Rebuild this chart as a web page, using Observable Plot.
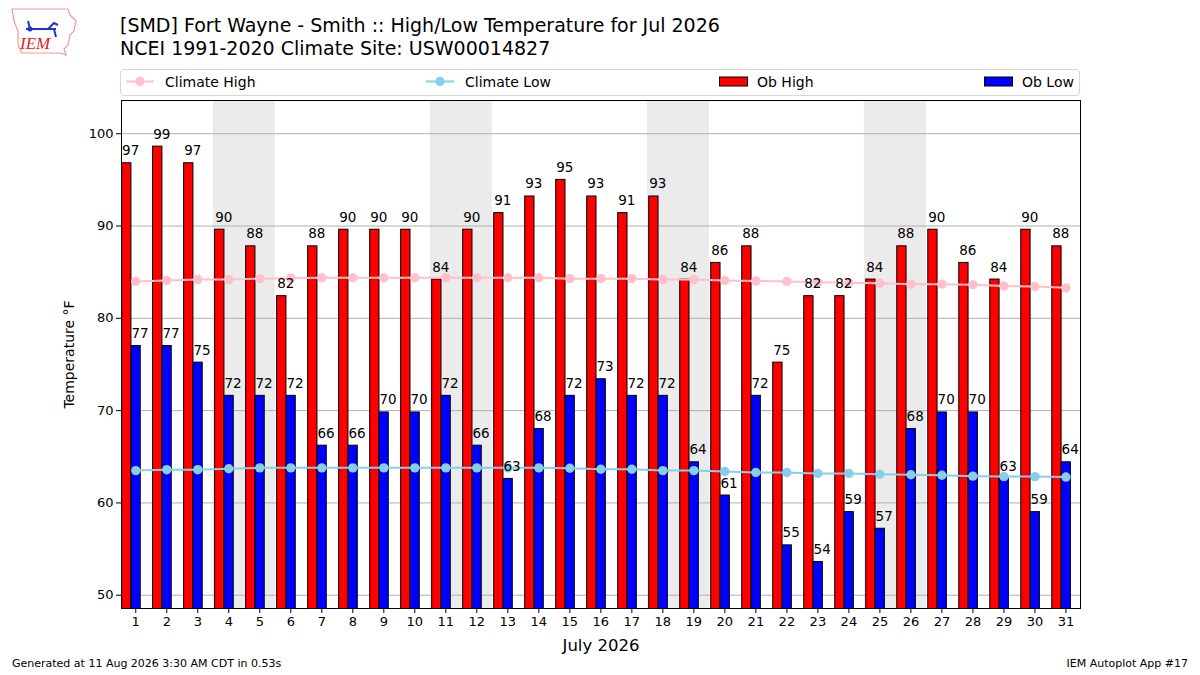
<!DOCTYPE html>
<html>
<head>
<meta charset="utf-8">
<script src="https://cdn.jsdelivr.net/npm/d3@7"></script>
<script src="https://cdn.jsdelivr.net/npm/@observablehq/plot@0.6"></script>
<style>
  html, body { margin: 0; padding: 0; background: #fff; }
  #wrap { position: relative; width: 1200px; height: 675px; overflow: hidden; font-family: "DejaVu Sans", sans-serif; color: #000; }
  .title { position: absolute; left: 120px; font-size: 19px; white-space: nowrap; line-height: 23px; }
  #legend { position: absolute; left: 120px; top: 69px; width: 958px; height: 25px; border: 1px solid #d6d6d6; border-radius: 4px; }
  .lg { position: absolute; top: 0; height: 25px; font-size: 14px; line-height: 24px; white-space: nowrap; }
  .foot { position: absolute; top: 657px; font-size: 11px; white-space: nowrap; line-height: 14px; }
  #chart { position: absolute; left: 0; top: 97px; }
  #chart svg [aria-label="x-axis label"] text { font-size: 16.5px; }
  #chart svg [aria-label="y-axis label"] text { font-size: 14px; }
</style>
</head>
<body>
<div id="wrap">
  <svg id="logo" width="72" height="54" style="position:absolute;left:8px;top:5px" viewBox="0 0 72 54">
    <path d="M4,4 L60,4 L62,10 L68,16 L66,26 L62,30 L60,40 L56,44 L58,50 L52,48 L14,48 L10,40 L10,26 L6,16 Z" fill="none" stroke="#ee9999" stroke-width="1.2"/>
    <path d="M18,24 L48,24 M22,24 L20,16 M40,24 L46,18 L50,20 M46,24 L48,32" stroke="#2233cc" stroke-width="2" fill="none"/>
    <circle cx="22" cy="24" r="2.5" fill="#2233cc"/>
    <text x="12" y="44" font-family="Liberation Serif" font-style="italic" font-size="17" fill="#dd2222">IEM</text>
  </svg>
  <div class="title" style="top:13.5px">[SMD] Fort Wayne - Smith :: High/Low Temperature for Jul 2026</div>
  <div class="title" style="top:36.5px">NCEI 1991-2020 Climate Site: USW00014827</div>
  <div id="legend"></div>
  <div id="chart"></div>
  <div class="foot" style="left:12px">Generated at 11 Aug 2026 3:30 AM CDT in 0.53s</div>
  <div class="foot" style="right:12px">IEM Autoplot App #17</div>
</div>
<script>
// ---- data ----
const days = [1,2,3,4,5,6,7,8,9,10,11,12,13,14,15,16,17,18,19,20,21,22,23,24,25,26,27,28,29,30,31];
const obHigh = [96.8,98.6,96.8,89.6,87.8,82.4,87.8,89.6,89.6,89.6,84.2,89.6,91.4,93.2,95.0,93.2,91.4,93.2,84.2,86.0,87.8,75.2,82.4,82.4,84.2,87.8,89.6,86.0,84.2,89.6,87.8];
const obLow = [77.0,77.0,75.2,71.6,71.6,71.6,66.2,66.2,69.8,69.8,71.6,66.2,62.6,68.0,71.6,73.4,71.6,71.6,64.4,60.8,71.6,55.4,53.6,59.0,57.2,68.0,69.8,69.8,62.6,59.0,64.4];
const climHigh = [84.0,84.1,84.2,84.2,84.3,84.35,84.4,84.4,84.4,84.4,84.4,84.4,84.4,84.4,84.3,84.3,84.3,84.2,84.2,84.1,84.05,84.0,83.9,83.85,83.8,83.7,83.7,83.65,83.5,83.45,83.3];
const climLow = [63.5,63.6,63.6,63.7,63.8,63.8,63.8,63.8,63.8,63.8,63.8,63.8,63.8,63.8,63.75,63.65,63.65,63.5,63.5,63.4,63.3,63.3,63.2,63.2,63.1,63.05,63.0,62.9,62.85,62.85,62.8];
const weekendDays = [4,5,11,12,18,19,25,26];
const yTicks = [50,60,70,80,90,100];
const seriesNames = ["Climate High","Climate Low","Ob High","Ob Low"];
const colors = {"Climate High":"#ffc0cb","Climate Low":"#87ceeb","Ob High":"#ff0000","Ob Low":"#0000ff"};

// ---- table ----
const rows = days.map((d, i) => ({day: d, high: obHigh[i], low: obLow[i], ch: climHigh[i], cl: climLow[i]}));
const fmt = v => String(Math.round(v));

const chart = Plot.plot({
  width: 1200,
  height: 578,
  marginTop: 3,
  marginBottom: 67,
  marginLeft: 121,
  marginRight: 120,
  style: {fontFamily: "DejaVu Sans", fontSize: "13px", background: "white", color: "black"},
  x: {domain: [0.54, 31.47], ticks: days, tickFormat: d => d, label: null},
  y: {domain: [48.56, 103.6], ticks: yTicks, label: null},
  marks: [
    Plot.rect(weekendDays, {x1: d => d - 0.5, x2: d => d + 0.5, fill: "#ebebeb"}),
    Plot.gridY(yTicks, {stroke: "#b0b0b0", strokeOpacity: 1, strokeWidth: 1}),
    Plot.rect(rows, {x1: d => d.day - 0.44, x2: d => d.day - 0.14, y1: 0, y2: "high", fill: colors["Ob High"], stroke: "black", strokeWidth: 1, clip: true}),
    Plot.rect(rows, {x1: d => d.day - 0.14, x2: d => d.day + 0.16, y1: 0, y2: "low", fill: colors["Ob Low"], stroke: "black", strokeWidth: 1, clip: true}),
    Plot.line(rows, {x: "day", y: "ch", stroke: colors["Climate High"], strokeWidth: 2}),
    Plot.dot(rows, {x: "day", y: "ch", r: 4.7, fill: colors["Climate High"], stroke: "none"}),
    Plot.line(rows, {x: "day", y: "cl", stroke: colors["Climate Low"], strokeWidth: 2}),
    Plot.dot(rows, {x: "day", y: "cl", r: 4.7, fill: colors["Climate Low"], stroke: "none"}),
    Plot.text(rows, {x: d => d.day - 0.44, y: "high", text: d => fmt(d.high), textAnchor: "start", lineAnchor: "bottom", dy: -8, fontSize: 13.5, fill: "black"}),
    Plot.text(rows, {x: d => d.day - 0.14, y: "low", text: d => fmt(d.low), textAnchor: "start", lineAnchor: "bottom", dy: -8, fontSize: 13.5, fill: "black"}),
    Plot.frame({stroke: "black", strokeWidth: 1}),
    Plot.axisX({ticks: days, tickFormat: d => d, tickSize: 5, tickPadding: 3, fontSize: 13, label: "July 2026", labelAnchor: "center", labelArrow: "none", labelOffset: 42}),
    Plot.axisY({ticks: yTicks, tickSize: 5, tickPadding: 3, fontSize: 13, label: "Temperature °F", labelAnchor: "center", labelArrow: "none", labelOffset: 57})
  ]
});
document.getElementById("chart").appendChild(chart);

// ---- legend ----
const legend = document.getElementById("legend");
const legPos = [{x: 0, kind: "line"}, {x: 300, kind: "line"}, {x: 598, kind: "patch"}, {x: 863, kind: "patch"}];
seriesNames.forEach((name, i) => {
  const p = legPos[i];
  const el = document.createElement("div");
  el.className = "lg";
  el.style.left = p.x + "px";
  let sym;
  if (p.kind === "line") {
    sym = `<svg width="44" height="25" style="vertical-align:top"><line x1="5" x2="33" y1="11.5" y2="11.5" stroke="${colors[name]}" stroke-width="2"/><circle cx="19" cy="11.5" r="4.7" fill="${colors[name]}"/></svg>`;
  } else {
    sym = `<svg width="38" height="25" style="vertical-align:top"><rect x="0.5" y="7" width="28" height="9" fill="${colors[name]}" stroke="black" stroke-width="1"/></svg>`;
  }
  el.innerHTML = sym + `<span>${name}</span>`;
  legend.appendChild(el);
});
</script>
</body>
</html>
